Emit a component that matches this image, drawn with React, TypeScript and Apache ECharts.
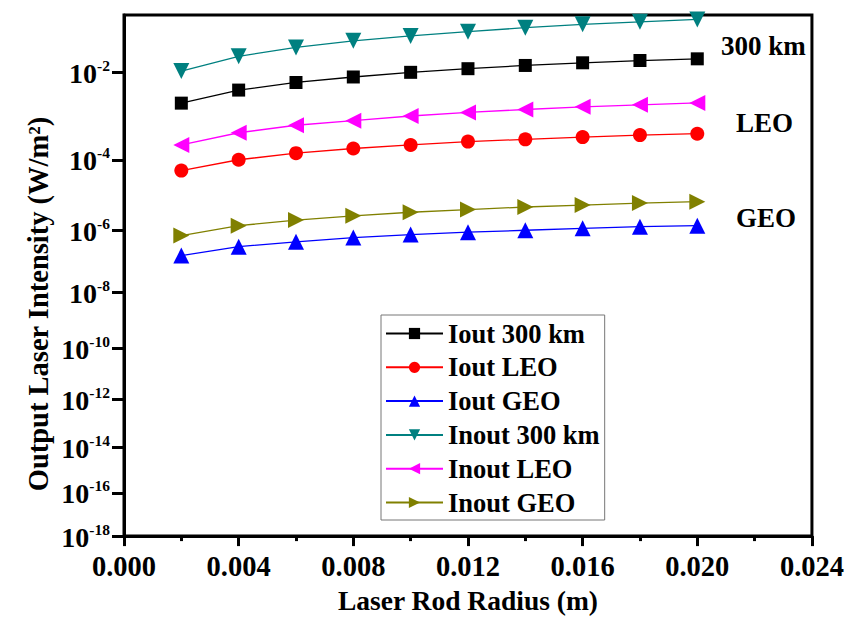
import React, { useEffect, useRef } from "react";
import * as echarts from "echarts";

const xValues = [0.002, 0.004, 0.006, 0.008, 0.01, 0.012, 0.014, 0.016, 0.018, 0.02];
const ioutKm300 = [2.31e-3, 4.41e-3, 6.34e-3, 8.19e-3, 1.013e-2, 1.193e-2, 1.377e-2, 1.547e-2, 1.707e-2, 1.836e-2];
const ioutLEO = [5.25e-5, 1.012e-4, 1.496e-4, 1.961e-4, 2.407e-4, 2.915e-4, 3.315e-4, 3.767e-4, 4.212e-4, 4.55e-4];
const ioutGEO = [1.655e-7, 3.17e-7, 4.52e-7, 6.12e-7, 7.56e-7, 8.94e-7, 1.026e-6, 1.178e-6, 1.316e-6, 1.412e-6];
const inoutKm300 = [1.072e-2, 2.047e-2, 2.96e-2, 3.857e-2, 4.67e-2, 5.488e-2, 6.356e-2, 7.186e-2, 7.88e-2, 8.57e-2];
const inoutLEO = [2.407e-4, 4.8e-4, 7.24e-4, 9.29e-4, 1.189e-3, 1.432e-3, 1.67e-3, 1.915e-3, 2.12e-3, 2.341e-3];
const inoutGEO = [7.06e-7, 1.412e-6, 2.08e-6, 2.78e-6, 3.56e-6, 4.26e-6, 5.06e-6, 5.77e-6, 6.58e-6, 7.21e-6];

const yTickExponents = [2, 4, 6, 8, 10, 12, 14, 16, 18];
const xTicks = { min: 0, max: 0.024, interval: 0.004 };
const annotations = [
  { text: "300 km", x: 721, y: 46 },
  { text: "LEO", x: 736, y: 123 },
  { text: "GEO", x: 736, y: 218 },
];
const yTitle = "Output Laser Intensity (W/m²)";
const xTitle = "Laser Rod Radius (m)";

const POW = 0.6;
const tf = (v: number) => Math.pow(-Math.log10(v), POW);
const FONT = "'Liberation Serif', 'Times New Roman', serif";

export default function App() {
  const ref = useRef<HTMLDivElement>(null);
  useEffect(() => {
    if (!ref.current) return;
    const chart = echarts.init(ref.current, null, { renderer: "svg" });
    const mk = (
      name: string,
      vals: number[],
      color: string,
      symbol: string,
      rotate: number,
      size: number
    ) => ({
      name,
      type: "line",
      data: xValues.map((x, i) => [x, tf(vals[i])]),
      symbol,
      symbolRotate: rotate,
      symbolSize: size,
      itemStyle: { color },
      lineStyle: { color, width: 1.3 },
    });
    chart.setOption({
      animation: false,
      grid: {
        left: 124,
        right: 31,
        top: 15,
        bottom: 76,
        show: true,
        borderColor: "#000",
        borderWidth: 3,
      },
      xAxis: {
        type: "value",
        min: xTicks.min,
        max: xTicks.max,
        interval: xTicks.interval,
        axisLine: { lineStyle: { color: "#000", width: 3 } },
        axisTick: { show: true, inside: false, length: 10, lineStyle: { width: 3, color: "#000" } },
        minorTick: { show: true, splitNumber: 2, length: 5, lineStyle: { width: 3, color: "#000" } },
        splitLine: { show: false },
        axisLabel: {
          margin: 16,
          formatter: (v: number) => v.toFixed(3),
          fontFamily: FONT,
          fontWeight: "bold",
          fontSize: 28.5,
          color: "#000",
        },
        name: xTitle,
        nameLocation: "middle",
        nameGap: 45,
        nameTextStyle: { fontFamily: FONT, fontWeight: "bold", fontSize: 27.5, color: "#000" },
      },
      yAxis: {
        type: "value",
        inverse: true,
        min: 1,
        max: Math.pow(18, POW),
        axisLine: { lineStyle: { color: "#000", width: 3 } },
        axisTick: {
          show: true,
          length: 12,
          customValues: yTickExponents.map((e) => Math.pow(e, POW)),
          lineStyle: { width: 3, color: "#000" },
        },
        splitLine: { show: false },
        axisLabel: {
          margin: 14,
          customValues: yTickExponents.map((e) => Math.pow(e, POW)),
          formatter: (v: number) => {
            const e = Math.round(Math.pow(v, 1 / POW));
            return `{b|10}{s|-${e}}`;
          },
          rich: {
            b: { fontFamily: FONT, fontWeight: "bold", fontSize: 28, color: "#000", lineHeight: 30, verticalAlign: "bottom" },
            s: { fontFamily: FONT, fontWeight: "bold", fontSize: 15.5, color: "#000", lineHeight: 30, verticalAlign: "top", padding: [0, 0, 14, 0] },
          },
        },
      },
      legend: {
        orient: "vertical",
        left: 381,
        top: 315,
        padding: [5, 5, 4, 4],
        borderColor: "#777",
        borderWidth: 1,
        itemWidth: 57,
        itemHeight: 14,
        itemGap: 6.8,
        itemTextGap: 10,
        textStyle: { fontFamily: FONT, fontWeight: "bold", fontSize: 26.5, color: "#000", lineHeight: 26 },
        data: ["Iout 300 km", "Iout LEO", "Iout GEO", "Inout 300 km", "Inout LEO", "Inout GEO"],
      },
      graphic: [
        ...annotations.map((a) => ({
          type: "text",
          left: a.x,
          top: a.y - 14,
          style: { text: a.text, fontFamily: FONT, fontWeight: "bold", fontSize: 27, fill: "#000" },
        })),
        {
          type: "text",
          x: 38,
          y: 304,
          rotation: Math.PI / 2,
          style: {
            text: yTitle,
            fontFamily: FONT,
            fontWeight: "bold",
            fontSize: 28.5,
            fill: "#000",
            align: "center",
            verticalAlign: "middle",
          },
        },
      ],
      series: [
        mk("Iout 300 km", ioutKm300, "#000000", "rect", 0, 13),
        mk("Iout LEO", ioutLEO, "#ff0000", "circle", 0, 14),
        mk("Iout GEO", ioutGEO, "#0000ff", "triangle", 0, 16),
        mk("Inout 300 km", inoutKm300, "#008080", "triangle", 180, 16),
        mk("Inout LEO", inoutLEO, "#ff00ff", "triangle", 90, 16),
        mk("Inout GEO", inoutGEO, "#808000", "triangle", -90, 16),
      ],
    });
    return () => chart.dispose();
  }, []);
  return (
    <div
      ref={ref}
      style={{ position: "absolute", left: 0, top: 0, width: 847, height: 619, background: "#fff" }}
    />
  );
}
